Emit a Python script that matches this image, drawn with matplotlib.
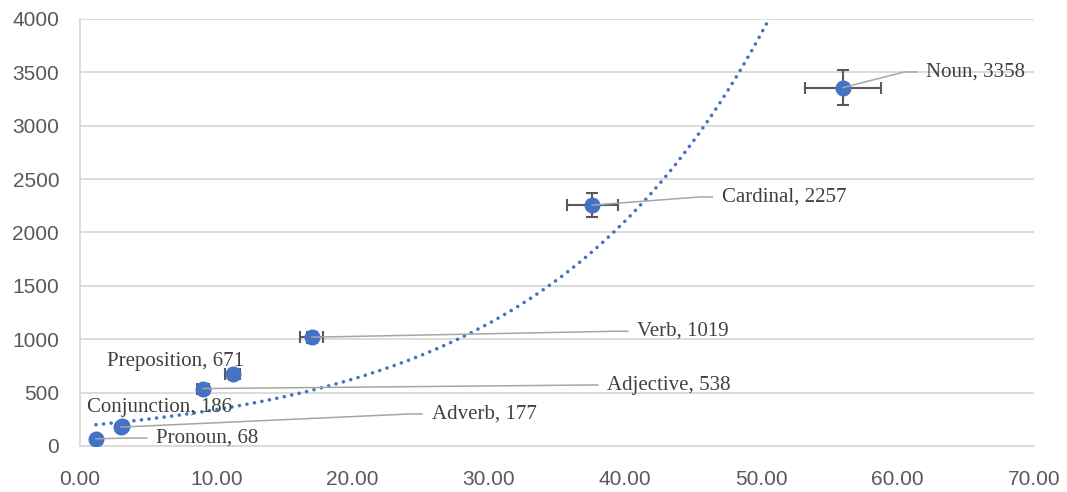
import numpy as np
import matplotlib.pyplot as plt
from matplotlib.ticker import FormatStrFormatter

# data
names = ['Pronoun', 'Conjunction', 'Adverb', 'Adjective', 'Preposition', 'Verb', 'Cardinal', 'Noun']
x_vals = [1.17, 3.1, 3.0, 9.0, 11.2, 17.0, 37.6, 56.0]
y_vals = [68, 186, 177, 538, 671, 1019, 2257, 3358]
err_pct = 0.05  # percentage error bars (x and y)

# label placement (data coords: left edge, vertical centre) and leader flag
label_x = [5.6, 0.5, 25.8, 38.7, 2.0, 40.9, 47.1, 62.1]
label_y = [75, 365, 300, 571, 787, 1075, 2333, 3504]
leader = [True, False, True, True, False, True, True, True]

blue = '#4472C4'
grid_c = '#d9d9d9'
txt_c = '#404040'

x = np.array(x_vals)
y = np.array(y_vals, dtype=float)

fig = plt.figure(figsize=(10.67, 4.92), dpi=100)
ax = fig.add_axes([0.075, 0.0935, 0.894, 0.8679])

# exponential trendline (least squares on log y, like Excel)
b, ln_a = np.polyfit(x, np.log(y), 1)
xt = np.linspace(x.min(), x.max(), 400)
ax.plot(xt, np.exp(ln_a) * np.exp(b * xt), color=blue, lw=2.6,
        linestyle=(0, (0.01, 2.1)), dash_capstyle='round', zorder=2)

ax.errorbar(x, y, xerr=x * err_pct, yerr=y * err_pct, fmt='none',
            ecolor='#595959', elinewidth=1.5, capsize=4.3, capthick=1.5, zorder=3)
ax.plot(x, y, 'o', color=blue, ms=10.5, zorder=4)

for i, n in enumerate(names):
    tx, ty = label_x[i], label_y[i]
    if leader[i]:
        ax.plot([x[i], tx - 1.6, tx - 0.7], [y[i], ty, ty], color='#a6a6a6',
                lw=1.1, zorder=5)
    ax.text(tx, ty, f'{n}, {y_vals[i]}', family='Liberation Serif', fontsize=15,
            color=txt_c, va='center', ha='left', zorder=6)

ax.set_xlim(0, 70)
ax.set_ylim(0, 4000)
ax.set_xticks(np.arange(0, 71, 10))
ax.set_yticks(np.arange(0, 4001, 500))
ax.xaxis.set_major_formatter(FormatStrFormatter('%.2f'))
ax.yaxis.grid(True, color=grid_c, lw=1.3)
ax.set_axisbelow(True)
for s in ['top', 'right']:
    ax.spines[s].set_visible(False)
for s in ['left', 'bottom']:
    ax.spines[s].set_color(grid_c)
    ax.spines[s].set_linewidth(1.3)
ax.tick_params(length=0, labelsize=15, labelcolor='#595959')
ax.tick_params(axis='x', pad=17)
ax.tick_params(axis='y', pad=15)
for lab in ax.get_xticklabels() + ax.get_yticklabels():
    lab.set_family('Liberation Sans')

fig.savefig('out.png', dpi=100)
